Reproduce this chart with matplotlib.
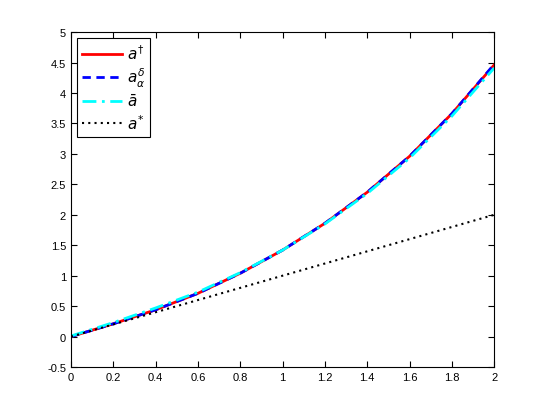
import matplotlib
matplotlib.use('Agg')
import matplotlib.pyplot as plt
import numpy as np

x = [0.0, 0.2, 0.4, 0.6, 0.8, 1.0, 1.2, 1.4, 1.6, 1.8, 2.0]
a_dagger = [0.0, 0.21, 0.44, 0.71, 1.04, 1.42, 1.86, 2.37, 2.96, 3.66, 4.46]
a_delta = [0.0, 0.21, 0.44, 0.71, 1.04, 1.42, 1.86, 2.37, 2.96, 3.66, 4.47]
a_bar = [0.01, 0.23, 0.47, 0.73, 1.05, 1.42, 1.85, 2.35, 2.93, 3.62, 4.41]
a_star = [0.0, 0.2, 0.4, 0.6, 0.8, 1.0, 1.2, 1.4, 1.6, 1.8, 2.0]

plt.rcParams['font.family'] = ['Liberation Sans', 'DejaVu Sans']
plt.rcParams['mathtext.fontset'] = 'dejavusans'

fig = plt.figure(figsize=(5.46, 4.14), dpi=100)
ax = fig.add_axes([0.13, 0.111, 0.775, 0.809])

ax.plot(x, a_dagger, color='red', lw=2, ls='-', label=r'$a^{\dagger}$')
ax.plot(x, a_delta, color='blue', lw=2, ls=(0, (3, 2)), label=r'$a_{\alpha}^{\delta}$')
ax.plot(x, a_bar, color='cyan', lw=2, ls=(0, (5, 2, 1, 2)), label=r'$\bar{a}$')
ax.plot(x, a_star, color='black', lw=1.5, ls=(0, (1, 2)), label=r'$a^{*}$')

ax.set_xlim(0, 2)
ax.set_ylim(-0.5, 5)
ax.set_xticks(np.arange(0, 2.01, 0.2))
ax.set_xticklabels(['0', '0.2', '0.4', '0.6', '0.8', '1', '1.2', '1.4', '1.6', '1.8', '2'])
ax.set_yticks(np.arange(-0.5, 5.01, 0.5))
ax.set_yticklabels(['-0.5', '0', '0.5', '1', '1.5', '2', '2.5', '3', '3.5', '4', '4.5', '5'])
ax.tick_params(direction='in', top=True, right=True, labelsize=8, length=4)

leg = ax.legend(loc='upper left', fancybox=False, edgecolor='black', fontsize=11,
                handlelength=2.6, handletextpad=0.3, labelspacing=0.25,
                borderaxespad=0.4, borderpad=0.35, framealpha=1)
leg.get_frame().set_linewidth(0.8)

fig.savefig('out.png', dpi=100)
